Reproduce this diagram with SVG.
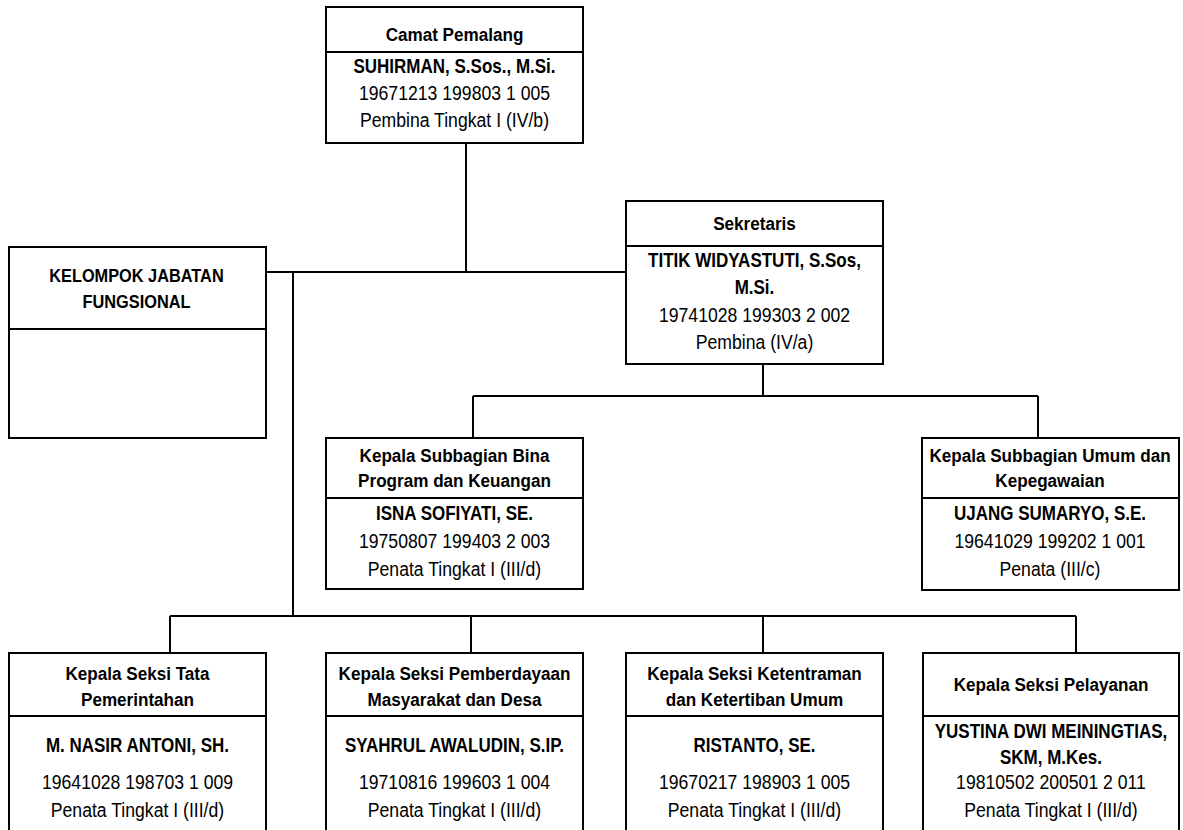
<svg xmlns="http://www.w3.org/2000/svg" width="1183" height="830" viewBox="0 0 1183 830">
<style>
.box{fill:#fff;stroke:#000;stroke-width:2}
.div{stroke:#000;stroke-width:2}
.con{stroke:#000;stroke-width:2;fill:none}
text{font-family:"Liberation Sans",Arial,sans-serif;font-size:21px;fill:#000;text-anchor:middle}
.t text{font-weight:bold;font-size:19px}
.b text{font-weight:bold}
</style>
<rect width="1183" height="830" fill="#fff"/>
<g id="connectors">
<path class="con" d="M466 143V272M266 272H626M293 272V616M170 616H1076M170 616V653M471 616V653M763 616V653M1076 616V653M763 364V396M473 396H1038M473 396V438M1038 396V438"/>
</g>
<g id="camat">
<rect class="box" x="326" y="7" width="257" height="136"/>
<line class="div" x1="326" y1="52" x2="583" y2="52"/>
<g class="t" transform="matrix(0.9 0 0 1 45.45 0)"><text x="454.5" y="41">Camat Pemalang</text></g>
<g class="b" transform="matrix(0.81 0 0 1 86.355 0)"><text x="454.5" y="73">SUHIRMAN, S.Sos., M.Si.</text></g>
<g transform="matrix(0.84 0 0 1 72.72 0)"><text x="454.5" y="100">19671213 199803 1 005</text>
<text x="454.5" y="127">Pembina Tingkat I (IV/b)</text></g>
</g>
<g id="fungsional">
<rect class="box" x="9" y="247" width="257" height="191"/>
<line class="div" x1="9" y1="329" x2="266" y2="329"/>
<g class="t" transform="matrix(0.86 0 0 1 19.11 0)"><text x="136.5" y="282">KELOMPOK JABATAN</text>
<text x="136.5" y="308">FUNGSIONAL</text></g>
</g>
<g id="sekretaris">
<rect class="box" x="626" y="201" width="257" height="163"/>
<line class="div" x1="626" y1="246" x2="883" y2="246"/>
<g class="t" transform="matrix(0.9 0 0 1 75.45 0)"><text x="754.5" y="230">Sekretaris</text></g>
<g class="b" transform="matrix(0.81 0 0 1 143.355 0)"><text x="754.5" y="267">TITIK WIDYASTUTI, S.Sos,</text>
<text x="754.5" y="294">M.Si.</text></g>
<g transform="matrix(0.84 0 0 1 120.72 0)"><text x="754.5" y="322">19741028 199303 2 002</text>
<text x="754.5" y="349">Pembina (IV/a)</text></g>
</g>
<g id="subbag-program">
<rect class="box" x="326" y="438" width="257" height="151"/>
<line class="div" x1="326" y1="498" x2="583" y2="498"/>
<g class="t" transform="matrix(0.9 0 0 1 45.45 0)"><text x="454.5" y="462">Kepala Subbagian Bina</text>
<text x="454.5" y="487">Program dan Keuangan</text></g>
<g class="b" transform="matrix(0.81 0 0 1 86.355 0)"><text x="454.5" y="520">ISNA SOFIYATI, SE.</text></g>
<g transform="matrix(0.84 0 0 1 72.72 0)"><text x="454.5" y="548">19750807 199403 2 003</text>
<text x="454.5" y="576">Penata Tingkat I (III/d)</text></g>
</g>
<g id="subbag-umum">
<rect class="box" x="922" y="438" width="257" height="152"/>
<line class="div" x1="922" y1="498" x2="1179" y2="498"/>
<g class="t" transform="matrix(0.9 0 0 1 105 0)"><text x="1050" y="462">Kepala Subbagian Umum dan</text>
<text x="1050" y="487">Kepegawaian</text></g>
<g class="b" transform="matrix(0.81 0 0 1 199.5 0)"><text x="1050" y="520">UJANG SUMARYO, S.E.</text></g>
<g transform="matrix(0.84 0 0 1 168 0)"><text x="1050" y="548">19641029 199202 1 001</text>
<text x="1050" y="576">Penata (III/c)</text></g>
</g>
<g id="seksi-pemerintahan">
<rect class="box" x="9" y="653" width="257" height="190"/>
<line class="div" x1="9" y1="716" x2="266" y2="716"/>
<g class="t" transform="matrix(0.9 0 0 1 13.75 0)"><text x="137.5" y="680">Kepala Seksi Tata</text>
<text x="137.5" y="706">Pemerintahan</text></g>
<g class="b" transform="matrix(0.81 0 0 1 26.125 0)"><text x="137.5" y="752">M. NASIR ANTONI, SH.</text></g>
<g transform="matrix(0.84 0 0 1 22 0)"><text x="137.5" y="789">19641028 198703 1 009</text>
<text x="137.5" y="817">Penata Tingkat I (III/d)</text></g>
</g>
<g id="seksi-pemberdayaan">
<rect class="box" x="326" y="653" width="257" height="190"/>
<line class="div" x1="326" y1="716" x2="583" y2="716"/>
<g class="t" transform="matrix(0.9 0 0 1 45.45 0)"><text x="454.5" y="680">Kepala Seksi Pemberdayaan</text>
<text x="454.5" y="706">Masyarakat dan Desa</text></g>
<g class="b" transform="matrix(0.81 0 0 1 86.355 0)"><text x="454.5" y="752">SYAHRUL AWALUDIN, S.IP.</text></g>
<g transform="matrix(0.84 0 0 1 72.72 0)"><text x="454.5" y="789">19710816 199603 1 004</text>
<text x="454.5" y="817">Penata Tingkat I (III/d)</text></g>
</g>
<g id="seksi-ketentraman">
<rect class="box" x="626" y="653" width="257" height="190"/>
<line class="div" x1="626" y1="716" x2="883" y2="716"/>
<g class="t" transform="matrix(0.9 0 0 1 75.45 0)"><text x="754.5" y="680">Kepala Seksi Ketentraman</text>
<text x="754.5" y="706">dan Ketertiban Umum</text></g>
<g class="b" transform="matrix(0.81 0 0 1 143.355 0)"><text x="754.5" y="752">RISTANTO, SE.</text></g>
<g transform="matrix(0.84 0 0 1 120.72 0)"><text x="754.5" y="789">19670217 198903 1 005</text>
<text x="754.5" y="817">Penata Tingkat I (III/d)</text></g>
</g>
<g id="seksi-pelayanan">
<rect class="box" x="923" y="653" width="256" height="190"/>
<line class="div" x1="923" y1="716" x2="1179" y2="716"/>
<g class="t" transform="matrix(0.9 0 0 1 105.1 0)"><text x="1051" y="691">Kepala Seksi Pelayanan</text></g>
<g class="b" transform="matrix(0.81 0 0 1 199.69 0)"><text x="1051" y="738">YUSTINA DWI MEININGTIAS,</text>
<text x="1051" y="764">SKM, M.Kes.</text></g>
<g transform="matrix(0.84 0 0 1 168.16 0)"><text x="1051" y="789">19810502 200501 2 011</text>
<text x="1051" y="817">Penata Tingkat I (III/d)</text></g>
</g>
</svg>
